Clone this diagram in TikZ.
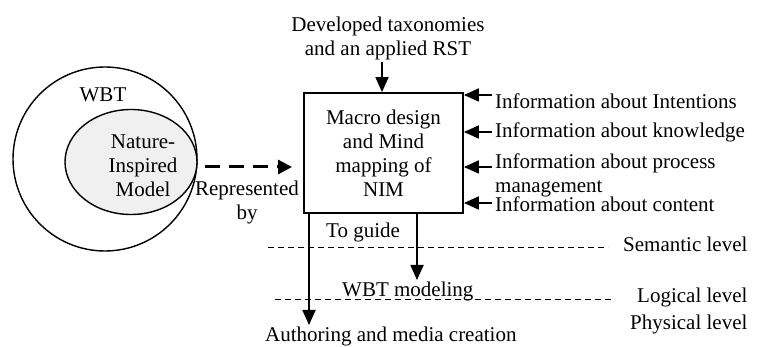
\documentclass[tikz,border=0pt]{standalone}
\usepackage{fontspec}
\setmainfont{Liberation Serif}
\usetikzlibrary{arrows.meta,shapes.geometric}
\begin{document}
\begin{tikzpicture}[x=1pt,y=-1pt,
  every node/.style={font=\fontsize{21}{24}\selectfont, inner sep=0pt},
  arr/.style={line width=1.8pt, -{Triangle[width=13pt,length=15pt]}},
  lvl/.style={line width=1pt, dash pattern=on 6pt off 4pt}]
\useasboundingbox (0,0) rectangle (758,347);
% left circles
\node[circle, draw, line width=1.4pt, minimum size=184pt] (wbt) at (105,159) {};
\node[ellipse, draw, line width=1.4pt, fill=gray!12, minimum width=132pt, minimum height=105pt] (nim) at (131,162) {};
\node[anchor=base] (wbtl) at (103,102) {WBT};
\node[align=center] (niml) at (143,165.5) {Nature-\\Inspired\\Model};
% dashed arrow
\coordinate (d1) at (205,167);
\coordinate (d2) at (292,167);
\draw[line width=3pt, dash pattern=on 15pt off 9pt, -{Triangle[width=14pt,length=14pt]}] (d1) -- (d2);
\node[align=center] (rep) at (247,202) {Represented\\by};
% main box
\node[draw, line width=1.8pt, minimum width=159pt, minimum height=120pt, align=center] (box) at (383.5,153) {Macro design\\and Mind\\mapping of\\NIM};
% top input
\node[align=center] (dev) at (388,38) {Developed taxonomies\\and an applied RST};
\coordinate (t1) at (382,62);
\draw[arr] (t1) -- (t1 |- box.north);
% right inputs
\node[anchor=base west] (i1) at (495,109) {Information about Intentions};
\node[anchor=base west] (i2) at (495,138) {Information about knowledge};
\node[anchor=north west, align=left] (i3) at (495,153.7) {Information about process\\management};
\node[anchor=base west] (i4) at (495,212) {Information about content};
\coordinate (r1) at (492,95);
\coordinate (r2) at (492,132);
\coordinate (r3) at (492,167);
\coordinate (r4) at (492,203);
\draw[arr] (r1) -- (r1 -| box.east);
\draw[arr] (r2) -- (r2 -| box.east);
\draw[arr] (r3) -- (r3 -| box.east);
\draw[arr] (r4) -- (r4 -| box.east);
% outputs
\coordinate (a1) at (309,325);
\coordinate (a2) at (417,280);
\draw[arr] (a1 |- box.south) -- (a1);
\draw[arr] (a2 |- box.south) -- (a2);
\node[anchor=base west] (guide) at (326,238) {To guide};
\node[anchor=base west] (wbtm) at (342,297) {WBT modeling};
\node[anchor=base west] (auth) at (265,342) {Authoring and media creation};
% levels
\coordinate (s1) at (268,248);
\coordinate (s2) at (608,248);
\coordinate (l1) at (275,300);
\coordinate (l2) at (613,300);
\draw[lvl] (s1) -- (s2);
\draw[lvl] (l1) -- (l2);
\node[anchor=base west] (sem) at (623,252) {Semantic level};
\node[anchor=base west] (log) at (637,303) {Logical level};
\node[anchor=base west] (phy) at (630,330) {Physical level};
\end{tikzpicture}
\end{document}
